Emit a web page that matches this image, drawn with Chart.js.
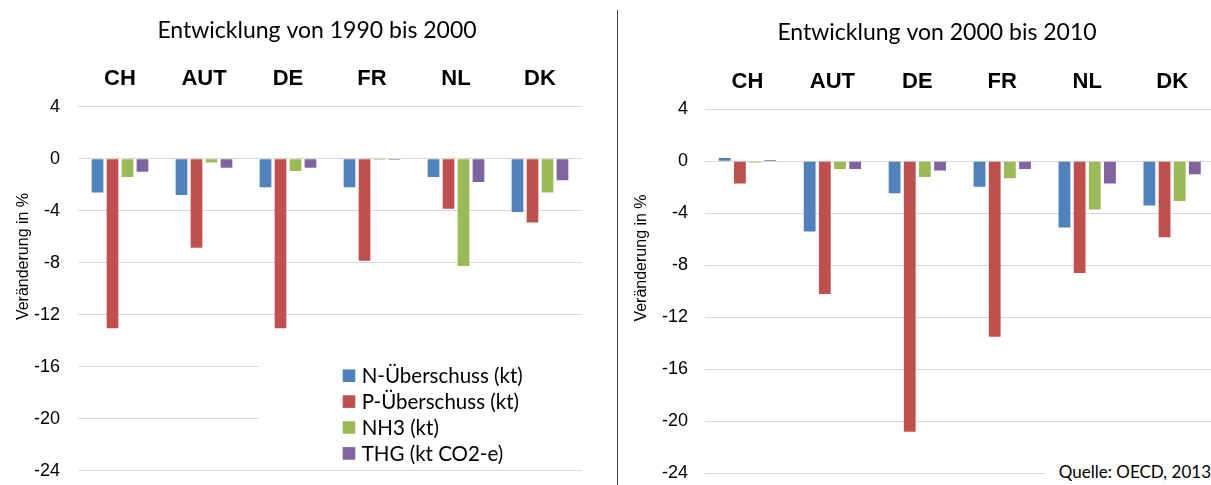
<!DOCTYPE html>
<html>
<head>
<meta charset="utf-8">
<script src="https://cdn.jsdelivr.net/npm/chart.js@4"></script>
<style>
  html, body { margin: 0; padding: 0; background: #fff; overflow: hidden; }
  body { width: 1211px; height: 485px; position: relative; }
  #left { position: absolute; left: 0; top: 0; }
  #right { position: absolute; left: 620px; top: 0; }
  #divider { position: absolute; left: 617px; top: 10px; width: 1px; height: 475px; background: #404040; }
  #source { position: absolute; left: 1045px; top: 461px; width: 166px; height: 22px; background: #fff;
            font: 17px Lato, sans-serif; color: #000; text-align: right; line-height: 22px; white-space: nowrap; }
</style>
</head>
<body>
<canvas id="left" width="618" height="485"></canvas>
<div id="divider"></div>
<canvas id="right" width="600" height="485"></canvas>
<div id="source">Quelle: OECD, 2013</div>
<script>
const countries = ['CH', 'AUT', 'DE', 'FR', 'NL', 'DK'];
const seriesNames = ['N-Überschuss (kt)', 'P-Überschuss (kt)', 'NH3 (kt)', 'THG (kt CO2-e)'];
const seriesColors = ['#4F81BD', '#C0504D', '#9BBB59', '#8064A2'];
const yTicks = [4, 0, -4, -8, -12, -16, -20, -24];

// 1990 - 2000
const nSurplus1990 = [-2.6, -2.8, -2.2, -2.2, -1.4, -4.1];
const pSurplus1990 = [-13.05, -6.85, -13.05, -7.85, -3.85, -4.9];
const nh3_1990 = [-1.4, -0.3, -0.95, -0.08, -8.25, -2.6];
const thg1990 = [-1.0, -0.7, -0.7, -0.08, -1.8, -1.65];

// 2000 - 2010
const nSurplus2000 = [0.25, -5.4, -2.45, -1.95, -5.1, -3.4];
const pSurplus2000 = [-1.7, -10.2, -20.8, -13.5, -8.6, -5.85];
const nh3_2000 = [-0.1, -0.6, -1.2, -1.3, -3.7, -3.05];
const thg2000 = [0.1, -0.6, -0.7, -0.6, -1.7, -1.0];

const axisTitle = 'Veränderung in %';

function makeDatasets(arrays) {
  return arrays.map((arr, i) => ({
    label: seriesNames[i],
    data: arr,
    backgroundColor: seriesColors[i],
    categoryPercentage: 0.714,
    barPercentage: 0.78
  }));
}

// chart title and rotated y axis title, drawn at fixed spots like in the original
function titlesPlugin(text, tx, ty, ax, ay) {
  return {
    id: 'titles',
    afterDraw(chart) {
      const ctx = chart.ctx;
      ctx.save();
      ctx.fillStyle = '#000';
      ctx.textAlign = 'center';
      ctx.textBaseline = 'middle';
      ctx.font = '23px Lato, sans-serif';
      ctx.fillText(text, tx, ty);
      ctx.translate(ax, ay);
      ctx.rotate(-Math.PI / 2);
      ctx.font = '16px "Liberation Sans", Arial, sans-serif';
      ctx.fillText(axisTitle, 0, 0);
      ctx.restore();
    }
  };
}

// legend box inside the plot area of the left chart
const boxLegend = {
  id: 'boxLegend',
  afterDatasetsDraw(chart) {
    const ctx = chart.ctx;
    const area = chart.chartArea;
    ctx.save();
    ctx.fillStyle = '#fff';
    ctx.fillRect(258.7, 357, area.right - 258.7 + 2, 108);
    ctx.font = '20.5px Lato, sans-serif';
    ctx.textBaseline = 'middle';
    ctx.textAlign = 'left';
    chart.data.datasets.forEach((ds, i) => {
      const cy = 375.7 + i * 25.9;
      ctx.fillStyle = ds.backgroundColor;
      ctx.fillRect(342.7, cy - 6.3, 12.6, 12.6);
      ctx.fillStyle = '#000';
      ctx.fillText(ds.label, 361.7, cy + 1);
    });
    ctx.restore();
  }
};

function makeChart(canvas, opts) {
  return new Chart(canvas, {
    type: 'bar',
    data: { labels: countries, datasets: makeDatasets(opts.arrays) },
    options: {
      responsive: false,
      animation: false,
      layout: { padding: { left: 0, right: opts.padRight, top: opts.padTop, bottom: opts.padBottom } },
      plugins: {
        legend: { display: false },
        tooltip: { enabled: false },
        title: { display: false }
      },
      scales: {
        x: {
          position: 'top',
          afterFit(scale) { scale.height = opts.xHeight; },
          grid: { display: false, drawTicks: false },
          border: { display: false },
          ticks: {
            color: '#000',
            padding: opts.xPad,
            font: { family: '"Liberation Sans", Arial, sans-serif', size: 22, weight: 'bold', lineHeight: 1.2 }
          }
        },
        y: {
          min: -24,
          max: 4,
          afterFit(scale) {
            scale.width = opts.yWidth;
            scale.paddingTop = 0;
            scale.paddingBottom = 0;
          },
          afterBuildTicks(scale) { scale.ticks = yTicks.map(v => ({ value: v })); },
          grid: { color: '#D9D9D9', lineWidth: 1, drawTicks: false },
          border: { display: false },
          ticks: {
            color: '#000',
            padding: opts.yPad,
            font: { family: '"Liberation Sans", Arial, sans-serif', size: 18 }
          }
        }
      }
    },
    plugins: opts.plugins
  });
}

makeChart(document.getElementById('left'), {
  arrays: [nSurplus1990, pSurplus1990, nh3_1990, thg1990],
  padRight: 36, padBottom: 14.3, padTop: 45,
  xHeight: 61.7, xPad: 14.5,
  yWidth: 78, yPad: 18,
  plugins: [titlesPlugin('Entwicklung von 1990 bis 2000', 317, 31, 24, 256.5), boxLegend]
});

makeChart(document.getElementById('right'), {
  arrays: [nSurplus2000, pSurplus2000, nh3_2000, thg2000],
  padRight: 5.4, padBottom: 11.7, padTop: 47,
  xHeight: 62.3, xPad: 14.1,
  yWidth: 85, yPad: 17,
  plugins: [titlesPlugin('Entwicklung von 2000 bis 2010', 317, 33, 22, 258)]
});
</script>
</body>
</html>
